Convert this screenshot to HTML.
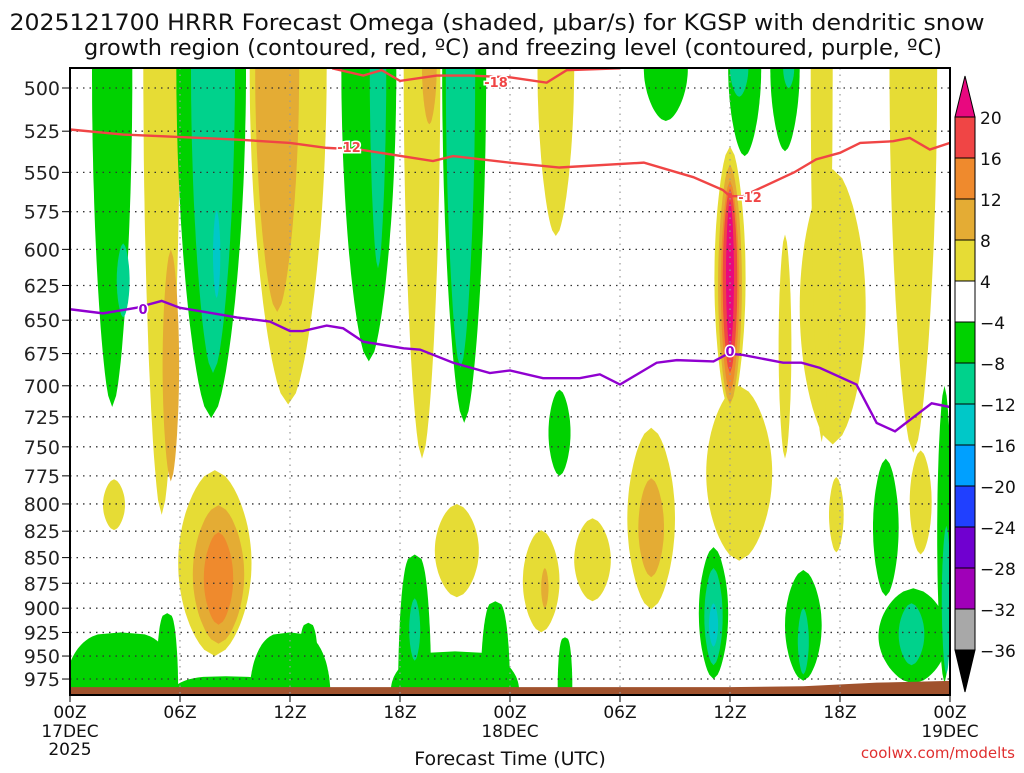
<!DOCTYPE html>
<html><head><meta charset="utf-8"><style>
body{margin:0;background:#fff;width:1024px;height:768px;overflow:hidden}
text{font-family:"DejaVu Sans","Liberation Sans",sans-serif}
</style></head><body>
<svg id="chart" width="1024" height="768" xmlns="http://www.w3.org/2000/svg">
<text x="497" y="30" font-size="22.5" text-anchor="middle" fill="#111" textLength="975" lengthAdjust="spacingAndGlyphs">2025121700 HRRR Forecast Omega (shaded, μbar/s) for KGSP with dendritic snow</text>
<text x="513" y="55" font-size="22.5" text-anchor="middle" fill="#111" textLength="858" lengthAdjust="spacingAndGlyphs">growth region (contoured, red, ºC) and freezing level (contoured, purple, ºC)</text>
<defs><clipPath id="pc"><rect x="70" y="68" width="880" height="627"/></clipPath></defs>
<g id="shade" clip-path="url(#pc)"></g>
<g id="grid"></g>
<g id="lines" clip-path="url(#pc)"></g>
<g id="axes"></g>
<g id="cbar"></g>
<text x="510" y="765" font-size="19" text-anchor="middle" fill="#111">Forecast Time (UTC)</text>
<text x="1015" y="758" font-size="15" text-anchor="end" fill="#e03030">coolwx.com/modelts</text>
</svg>
<script>
// data
const pLevels=[500,525,550,575,600,625,650,675,700,725,750,775,800,825,850,875,900,925,950,975];
const xTicks=[0,6,12,18,24,30,36,42,48];
const xTickLabels=["00Z","06Z","12Z","18Z","00Z","06Z","12Z","18Z","00Z"];
const xSubLabels=["17DEC","","","","18DEC","","","","19DEC"];
const cbLevels=[20,16,12,8,4,-4,-8,-12,-16,-20,-24,-28,-32,-36];
const cbColors=["#f04545","#ef8a2d","#e4ac34","#e6dc35","#ffffff","#00d200","#00d28c","#00c8c8","#00a0ff","#2040ff","#7000d0","#a000b8","#a8a8a8"];
// omega regions: hour, top p, bottom p, half-width hours, value
const blobT=[2.3,2.9,5,5.5,7.7,7.8,8,7.9,8.1,8.1,11.9,11.3,16.3,16.8,19.2,19.6,21.5,21.3,26.5,32.5,36.8,36.5,39,39.2,36,36,36,36,36,39,41.6,46,2.4,26.7,21.1,25.7,25.9,28.5,31.7,31.7,36.5,41.8,46.4,2.8,5.3,8.5,12,13,18.8,18.8,23.2,21,27,35.1,35.1,35.1,40,40,44.5,46,45.9,47.7,47.8,41];
const blobTop=[489,596,489,600,489,489,574,770,801,826,489,489,489,489,489,489,489,489,489,489,489,489,489,489,534,545,555,560,568,590,548,489,778,703,800,824,860,813,734,777,700,776,753,925,905,972,925,915,847,890,893,945,930,840,860,895,862,900,760,880,895,700,820,489];
const blobBot=[717,648,810,780,726,690,634,950,937,917,715,644,681,613,760,521,730,686,591,519,540,505,537,500,720,715,705,690,672,760,748,755,824,775,889,925,900,893,901,869,853,845,847,990,990,992,992,990,988,955,988,988,985,975,960,940,977,970,888,980,960,980,970,746];
const blobHW=[1.1,0.35,1.0,0.45,1.9,1.2,0.2,2,1.4,0.8,2.1,1.2,1.5,0.45,1.0,0.4,1.2,0.8,1.0,1.2,0.9,0.5,0.8,0.3,0.85,0.65,0.5,0.4,0.22,0.35,1.8,1.3,0.6,0.6,1.2,1,0.2,1,1.3,0.7,1.8,0.4,0.6,3.1,0.6,3,2.2,0.6,0.9,0.3,0.8,3.5,0.4,0.8,0.5,0.25,1,0.3,0.7,1.9,0.7,0.4,0.25,0.6];
const blobVal=[-5,-9,5,9,-5,-9,-13,5,9,13,5,9,-5,-9,5,9,-5,-9,5,-5,-5,-9,-5,-9,5,9,13,17,22,5,5,5,5,-5,5,5,9,5,5,9,5,5,5,-5,-5,-5,-5,-5,-5,-9,-5,-5,-5,-5,-9,-13,-5,-9,-5,-5,-9,-5,-9,5];
// contours
const redT=[0,2.9,9.1,12,14,15.8,19.8,20.9,24,26.7,31.3,34,35.6,36,36.7,39.5,40.7,42,43.1,44.9,45.8,46.9,48];
const redP=[524,527,530,532,535,536,543,540,544,547,544,553,561,565,565,550,542,538,532,531,529,536,532];
const red18T=[14.3,16,17,18,20,21.8,24,26,27.1,30];
const red18P=[489,493,490,496,493,493,494,497,490,489];
const purT=[0,1.8,3.6,5.0,6.0,7.8,9.1,10.9,12,12.7,14,14.9,16.0,18.2,19.1,20.9,22.9,24,25.8,27.8,28.9,30,32,33.1,35.1,35.9,36.7,38.9,39.9,40.9,42.9,44,45,47,48];
const purP=[642,645,641,636,641,645,648,651,658,658,654,656,666,671,672,682,690,688,694,694,691,699,682,680,681,675,676,682,682,686,699,730,737,714,717];
const sfcT=[0,24,36,40,44,48];
const sfcP=[984,984,984,983,979,977];

const NS="http://www.w3.org/2000/svg";
const xs=h=>70+h*880/48;
const ys=p=>88+885*Math.log(p/500);
function mk(tag,at,parent){const e=document.createElementNS(NS,tag);for(const k in at)e.setAttribute(k,at[k]);parent.appendChild(e);return e;}
function colorFor(v){if(v>20)return"#e8087f";for(let i=0;i<cbLevels.length-1;i++){if(v<=cbLevels[i]&&v>cbLevels[i+1])return cbColors[i];}return v<=-36?"#000":"#fff";}
function shapePath(i){
 const y1=ys(blobTop[i]),y2=ys(blobBot[i]),cx=xs(blobT[i]),rx=blobHW[i]*880/48;
 let s0=0,s1=1,ex=0.55;
 if(blobTop[i]<=490)s0=0.5;
 if(blobBot[i]>=985){s1=0.5;ex=0.3;}
 if(blobTop[i]<=490&&blobBot[i]>=985){s0=0.5;s1=0.5;}
 const N=30,L=[],R=[];
 for(let k=0;k<=N;k++){const f=k/N;const s=s0+(s1-s0)*f;
  const w=(s0===s1)?rx:rx*Math.pow(Math.sin(Math.PI*s),ex);
  const y=y1+(y2-y1)*f;L.push([cx-w,y]);R.push([cx+w,y]);}
 const pts=L.concat(R.reverse());
 return 'M'+pts.map(p=>p[0].toFixed(1)+','+p[1].toFixed(1)).join(' L')+' Z';
}
const shade=document.getElementById('shade');
const idx=blobT.map((_,i)=>i).sort((a,b)=>Math.abs(blobVal[a])-Math.abs(blobVal[b]));
idx.forEach(i=>{
 const e=mk('path',{d:shapePath(i),fill:colorFor(blobVal[i])},shade);
 
 });
let d=`M${xs(sfcT[0])},695 `+sfcT.map((t,i)=>`L${xs(t)},${ys(sfcP[i])}`).join(' ')+` L${xs(48)},695 Z`;
const terr=mk('path',{d:d,fill:"#a0522d"},shade);


const grid=document.getElementById('grid');
pLevels.forEach(p=>{const l=mk('line',{x1:70,x2:950,y1:ys(p),y2:ys(p),stroke:"#333","stroke-dasharray":"1.5,5","stroke-width":1.3},grid);
 
 });
xTicks.forEach(h=>{const l=mk('line',{x1:xs(h),x2:xs(h),y1:68,y2:695,stroke:"#999","stroke-dasharray":"1.5,5","stroke-width":1.2},grid);
 
 });
const lines=document.getElementById('lines');
function poly(T,P,col,name){const e=mk('polyline',{points:T.map((t,i)=>xs(t)+','+ys(P[i])).join(' '),fill:"none",stroke:col,"stroke-width":2.4},lines);
 
 }
poly(redT,redP,"#f04545","dgz-minus12-contour");
poly(red18T,red18P,"#f04545","dgz-minus18-contour");
poly(purT,purP,"#9000d0","freezing-level-contour");
function lab(x,y,t,c,n){const g=mk('text',{x:x,y:y,"font-size":13,"font-weight":"bold",fill:c,stroke:"#fff","stroke-width":3,"paint-order":"stroke","text-anchor":"middle"},lines);g.textContent=t;
 
 }
lab(349,152,"-12","#f04545","contour-label");lab(750,202,"-12","#f04545","contour-label");
lab(496,87,"-18","#f04545","contour-label");lab(143,314,"0","#9000d0","contour-label");lab(730,356,"0","#9000d0","contour-label");
const ax=document.getElementById('axes');
const fr=mk('rect',{x:70,y:68,width:880,height:627,fill:"none",stroke:"#000","stroke-width":2},ax);


pLevels.forEach(p=>{mk('line',{x1:62,x2:70,y1:ys(p),y2:ys(p),stroke:"#000"},ax);
 const t=mk('text',{x:60,y:ys(p)+7,"font-size":19,"text-anchor":"end",fill:"#222"},ax);t.textContent=p;
 
 });
xTicks.forEach((h,i)=>{mk('line',{x1:xs(h),x2:xs(h),y1:695,y2:702,stroke:"#000"},ax);
 const t=mk('text',{x:xs(h),y:718,"font-size":17,"text-anchor":"middle",fill:"#111"},ax);t.textContent=xTickLabels[i];
 
 
 if(xSubLabels[i]){const s=mk('text',{x:xs(h),y:737,"font-size":17,"text-anchor":"middle",fill:"#111"},ax);s.textContent=xSubLabels[i];
 
 }});
const yr=mk('text',{x:70,y:755,"font-size":17,"text-anchor":"middle",fill:"#111"},ax);yr.textContent="2025";


const cb=document.getElementById('cbar');
const bx=955,bw=20,cbTop=117,bh=41;
const tri1=mk('polygon',{points:`${bx},${cbTop} ${bx+bw},${cbTop} ${bx+bw/2},76`,fill:"#e8087f",stroke:"#000"},cb);


cbColors.forEach((c,i)=>{const r=mk('rect',{x:bx,y:cbTop+i*bh,width:bw,height:bh,fill:c,stroke:"#000"},cb);
 
 });
const yb=cbTop+cbColors.length*bh;
const tri2=mk('polygon',{points:`${bx},${yb} ${bx+bw},${yb} ${bx+bw/2},${yb+42}`,fill:"#000",stroke:"#000"},cb);


cbLevels.forEach((v,i)=>{const t=mk('text',{x:980,y:cbTop+i*bh+7,"font-size":17,fill:"#111"},cb);t.textContent=v<0?"\u2212"+(-v):v;
 
 });
</script>
</body></html>
